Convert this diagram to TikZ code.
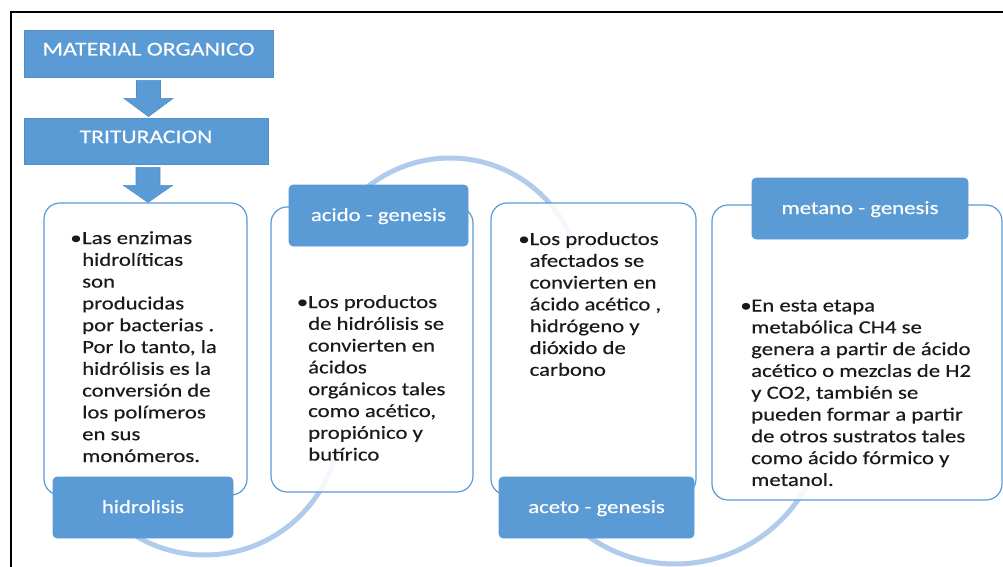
\documentclass[tikz,border=0pt]{standalone}
\usepackage{fontspec}
\setmainfont{Carlito}[FakeStretch=1.23,FakeBold=0.35]
\usetikzlibrary{calc}
\definecolor{ofblue}{HTML}{5B9BD5}
\definecolor{ofedge}{HTML}{4F8FCB}
\definecolor{arcblue}{RGB}{176,203,235}
\definecolor{txt}{HTML}{1A1A1A}
\begin{document}
\begin{tikzpicture}[x=1pt,y=-1pt,
  headbox/.style={fill=ofblue, draw=ofedge, line width=0.8pt, text=white,
    inner sep=0, text height=12pt, text depth=8pt},
  labelbox/.style={fill=ofblue, draw=ofblue, line width=0.6pt, rounded corners=4pt,
    text=white, font=\fontsize{18.5}{22}\selectfont, inner sep=0,
    text height=14pt, text depth=3pt, minimum height=61pt},
  textbox/.style={draw=ofblue, line width=1.2pt, fill=white, fill opacity=0.87,
    rounded corners=16pt, inner sep=0},
  bodytext/.style={anchor=base west, inner sep=0, text=txt,
    font=\fontsize{18.5}{21.8}\selectfont},
  bulletmark/.style={anchor=base, inner sep=0, text=txt,
    font=\fontsize{18.5}{21.8}\selectfont},
  flowarc/.style={draw=arcblue, line width=5pt},
  blockarrow/.style={fill=ofblue, draw=ofedge, line width=0.6pt, line join=miter}
]
\useasboundingbox (0,0) rectangle (1003,567);

% frame
\coordinate (fb) at (11,567);
\coordinate (ftl) at (11,12);
\coordinate (fr) at (1003,12);
\draw[line width=2pt] (fb) -- (ftl) -- (fr);

% flow arcs (behind boxes)
\draw[flowarc] plot[domain=12:135, samples=80, smooth] ({205+135*cos(\x)}, {420+135*sin(\x)});
\draw[flowarc] plot[domain=-140:-18, samples=80, smooth] ({450+132*cos(\x)}, {290+132*sin(\x)});
\draw[flowarc] plot[domain=28:130, samples=80, smooth] ({675+150*cos(\x)}, {414+150*sin(\x)});

% top boxes
\node[headbox, font=\fontsize{19.5}{22}\selectfont, minimum width=249pt, minimum height=47pt] (mo) at (148.5,53.5) {MATERIAL ORGANICO};
\node[headbox, font=\fontsize{19.2}{22}\selectfont, minimum width=244pt, minimum height=46pt] (tri) at (146,141) {TRITURACION};

% text boxes
\node[textbox, minimum width=203pt, minimum height=292pt] (b1) at (145.5,349) {};
\node[textbox, minimum width=202pt, minimum height=285pt] (b2) at (372,349.5) {};
\node[textbox, minimum width=205pt, minimum height=292pt] (b3) at (593.5,349) {};
\node[textbox, minimum width=290pt, minimum height=295pt] (b4) at (857,352.5) {};

% block arrows
\draw[blockarrow] ($(mo.south)+(-12,3)$) -- ($(mo.south)+(12,3)$) -- ($(mo.south)+(12,21)$)
  -- ($(mo.south)+(24.5,21)$) -- ($(mo.south |- tri.north)+(0,-1)$)
  -- ($(mo.south)+(-24.5,21)$) -- ($(mo.south)+(-12,21)$) -- cycle;
\draw[blockarrow] ($(tri.south)+(-10,3)$) -- ($(tri.south)+(14,3)$) -- ($(tri.south)+(14,21)$)
  -- ($(tri.south)+(26.5,21)$) -- ($(tri.south)+(2,38)$)
  -- ($(tri.south)+(-22.5,21)$) -- ($(tri.south)+(-10,21)$) -- cycle;

% body texts
\node[bulletmark] (u1) at (76,244) {•};
\node[bodytext] (t1) at (82,244) {\parbox[t]{260pt}{\raggedright
Las enzimas\\ hidrolíticas\\ son\\ producidas\\ por bacterias .\\ Por lo tanto, la\\
hidrólisis es la\\ conversión de\\ los polímeros\\ en sus\\ monómeros.}};

\node[bulletmark] (u2) at (302.5,308) {•};
\node[bodytext] (t2) at (308,308) {\parbox[t]{260pt}{\raggedright
Los productos\\ de hidrólisis se\\ convierten en\\ ácidos\\ orgánicos tales\\
como acético,\\ propiónico y\\ butírico}};

\node[bulletmark] (u3) at (524,245) {•};
\node[bodytext] (t3) at (529.5,245) {\parbox[t]{260pt}{\raggedright
Los productos\\ afectados se\\ convierten en\\ ácido acético ,\\ hidrógeno y\\
dióxido de\\ carbono}};

\node[bulletmark] (u4) at (746,311.5) {•};
\node[bodytext] (t4) at (751,311.5) {\parbox[t]{300pt}{\raggedright
En esta etapa\\ metabólica CH4 se\\ genera a partir de ácido\\ acético o mezclas de H2\\
y CO2, también se\\ pueden formar a partir\\ de otros sustratos tales\\
como ácido fórmico y\\ metanol.}};

% stage labels
\node[labelbox, minimum width=180pt] (hid) at (143,507.5) {hidrolisis};
\node[labelbox, minimum width=179pt] (acg) at (378.5,215.5) {acido - genesis};
\node[labelbox, minimum width=195pt] (acet) at (596.5,507.5) {aceto - genesis};
\node[labelbox, minimum width=216pt] (met) at (860,208.5) {metano - genesis};
\end{tikzpicture}
\end{document}
